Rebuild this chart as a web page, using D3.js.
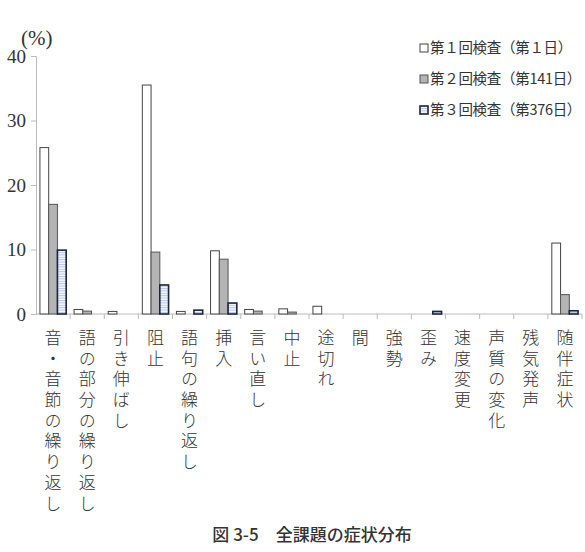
<!DOCTYPE html>
<html>

<head>
    <meta charset="utf-8">
    <script src="https://cdnjs.cloudflare.com/ajax/libs/d3/7.8.5/d3.min.js"></script>
    <style>
        body {
            margin: 0;
            background: #fff;
        }

        .num {
            font-family: 'Liberation Serif', 'DejaVu Serif', serif;
            fill: #333;
        }

        .jp {
            font-family: 'Noto Sans CJK JP', sans-serif;
            fill: #333;
        }
    </style>
</head>

<body>
    <script>
        // data (%)
        const categories = ['音・音節の繰り返し', '語の部分の繰り返し', '引き伸ばし', '阻止', '語句の繰り返し',
            '挿入', '言い直し', '中止', '途切れ', '間', '強勢', '歪み', '速度変更', '声質の変化', '残気発声', '随伴症状']
        const seriesNames = ['第１回検査（第１日）', '第２回検査（第141日）', '第３回検査（第376日）']
        const test1 = [25.8, 0.7, 0.4, 35.5, 0.4, 9.8, 0.7, 0.8, 1.2, 0, 0, 0, 0, 0, 0, 11.0]
        const test2 = [17.0, 0.45, 0, 9.6, 0, 8.5, 0.45, 0.3, 0, 0, 0, 0, 0, 0, 0, 3.0]
        const test3 = [9.9, 0, 0, 4.5, 0.6, 1.7, 0, 0, 0, 0, 0, 0.4, 0, 0, 0, 0.5]
        const yTicks = [0, 10, 20, 30, 40]

        const w = 585
        const h = 552
        const margin = { left: 36, right: 3, top: 56, bottom: 238 }

        const svg = d3.select('body').append('svg')
            .attr('width', w)
            .attr('height', h)

        // striped fill for the third test
        const defs = svg.append('defs')
        const pat = defs.append('pattern')
            .attr('id', 'stripes')
            .attr('patternUnits', 'userSpaceOnUse')
            .attr('width', 4)
            .attr('height', 2.4)
        pat.append('rect').attr('width', 4).attr('height', 2.4).attr('fill', '#f4f7fc')
        pat.append('rect').attr('width', 4).attr('height', 1).attr('fill', '#b8c6e0')

        const x = d3.scaleBand()
            .domain(categories)
            .range([margin.left, w - margin.right])

        const x1 = d3.scaleBand()
            .domain([0, 1, 2])
            .range([0, x.bandwidth()])
            .paddingOuter(0.45)

        const y = d3.scaleLinear()
            .domain([0, 40])
            .range([h - margin.bottom, margin.top])

        // y axis
        const yAxis = svg.append('g')
            .attr('transform', `translate(${margin.left},0)`)
            .call(d3.axisLeft(y).tickValues(yTicks).tickSize(5).tickPadding(5))
        yAxis.select('.domain').attr('stroke', '#bbb')
        yAxis.selectAll('.tick line').attr('stroke', '#bbb')
        yAxis.selectAll('.tick text')
            .attr('class', 'num')
            .attr('font-size', 19)
            .attr('fill', '#333')

        svg.append('text')
            .attr('class', 'num')
            .attr('x', 21)
            .attr('y', 45)
            .attr('font-size', 21)
            .text('(%)')

        // x axis (ticks at category boundaries)
        const boundaries = categories.map(c => x(c)).concat([x(categories[categories.length - 1]) + x.bandwidth()])
        const xg = svg.append('g')
        xg.append('line')
            .attr('x1', margin.left).attr('x2', w - margin.right)
            .attr('y1', y(0)).attr('y2', y(0))
            .attr('stroke', '#bbb')
        xg.selectAll('line.tk')
            .data(boundaries.slice(1))
            .enter()
            .append('line')
            .attr('class', 'tk')
            .attr('x1', d => d).attr('x2', d => d)
            .attr('y1', y(0)).attr('y2', y(0) + 5)
            .attr('stroke', '#bbb')

        // bars
        const series = [
            { values: test1, fill: '#ffffff', stroke: '#444', sw: 1 },
            { values: test2, fill: '#b4b4b4', stroke: '#555', sw: 1 },
            { values: test3, fill: 'url(#stripes)', stroke: '#1c2540', sw: 1.6 }
        ]

        series.forEach((s, si) => {
            svg.append('g').selectAll('rect')
                .data(categories.map((c, i) => ({ c: c, v: s.values[i] })).filter(d => d.v > 0))
                .enter()
                .append('rect')
                .attr('x', d => x(d.c) + x1(si))
                .attr('y', d => y(d.v))
                .attr('width', x1.bandwidth())
                .attr('height', d => y(0) - y(d.v))
                .attr('fill', s.fill)
                .attr('stroke', s.stroke)
                .attr('stroke-width', s.sw)
        })

        // vertical category labels
        svg.append('g').selectAll('text')
            .data(categories)
            .enter()
            .append('text')
            .attr('class', 'jp')
            .attr('x', d => x(d) + x.bandwidth() / 2)
            .attr('y', 329)
            .attr('font-size', 17)
            .attr('font-weight', 300)
            .attr('letter-spacing', 3.7)
            .style('writing-mode', 'vertical-rl')
            .text(d => d)

        // legend
        const legend = svg.append('g')
        seriesNames.forEach((name, i) => {
            const ly = 48 + i * 31
            legend.append('rect')
                .attr('x', 420)
                .attr('y', ly - 4)
                .attr('width', 8)
                .attr('height', 8)
                .attr('fill', series[i].fill)
                .attr('stroke', series[i].stroke)
                .attr('stroke-width', series[i].sw)
            legend.append('text')
                .attr('class', 'jp')
                .attr('x', 430)
                .attr('y', ly)
                .attr('dy', '0.36em')
                .attr('font-size', 14.5)
                .attr('letter-spacing', -0.3)
                .text(name)
        })

        // caption
        svg.append('text')
            .attr('class', 'jp')
            .attr('x', 312)
            .attr('y', 541)
            .attr('text-anchor', 'middle')
            .attr('font-size', 17)
            .attr('font-weight', 500)
            .text('図 3-5　全課題の症状分布')
    </script>
</body>

</html>
